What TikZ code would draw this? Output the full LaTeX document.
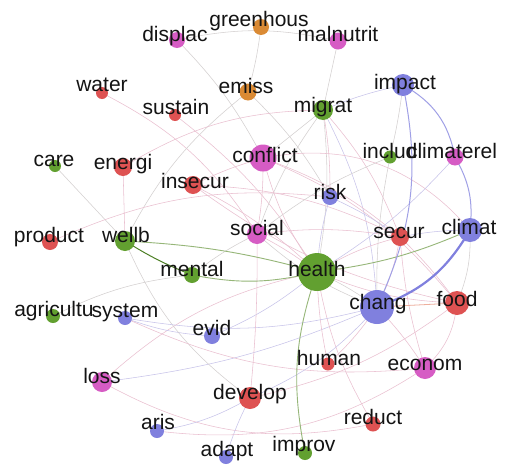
\documentclass[tikz,border=0pt]{standalone}
\usepackage{fontspec}
\setmainfont{Liberation Sans}
\pgfdeclarelayer{bgfill}
\pgfdeclarelayer{edges}
\pgfsetlayers{bgfill,edges,main}
\definecolor{cgreen}{RGB}{98,160,48}
\definecolor{cmag}{RGB}{214,92,196}
\definecolor{cblue}{RGB}{128,128,222}
\definecolor{cred}{RGB}{222,82,82}
\definecolor{corange}{RGB}{218,138,52}
\definecolor{epink}{RGB}{234,192,208}
\definecolor{egray}{RGB}{212,208,208}
\definecolor{elav}{RGB}{200,196,234}
\definecolor{egreen}{RGB}{150,182,120}
\begin{document}
\begin{tikzpicture}[x=1pt,y=1pt,
  nd/.style={circle,inner sep=0pt,draw=none,minimum size=#1},
  lab/.style={font=\fontsize{21}{21}\selectfont,inner sep=0pt,anchor=base,text=black!92},
  ep/.style={draw=epink,line width=0.55pt},
  eg/.style={draw=egray,line width=0.55pt},
  el/.style={draw=elav,line width=0.55pt},
  eb/.style={draw=cblue!75,line width=1pt},
  egr/.style={draw=egreen,line width=0.9pt}]
\useasboundingbox (0,0) rectangle (506,-466);
\begin{pgfonlayer}{bgfill}
\fill[white] (0,0) rectangle (506,-466);
\end{pgfonlayer}
% circles
\node[nd=16pt,fill=cmag] (displac) at (177,-40) {};
\node[nd=16pt,fill=corange] (greenhous) at (261,-27) {};
\node[nd=17pt,fill=cmag] (malnutrit) at (338,-41) {};
\node[nd=12pt,fill=cred] (water) at (102,-93) {};
\node[nd=17pt,fill=corange] (emiss) at (248,-92) {};
\node[nd=22pt,fill=cblue] (impact) at (403,-85) {};
\node[nd=12pt,fill=cred] (sustain) at (175,-115) {};
\node[nd=20pt,fill=cgreen] (migrat) at (323,-110) {};
\node[nd=12pt,fill=cgreen] (care) at (55,-166) {};
\node[nd=18pt,fill=cred] (energi) at (123,-167) {};
\node[nd=27pt,fill=cmag] (conflict) at (263,-158) {};
\node[nd=18pt,fill=cred] (insecur) at (193,-185) {};
\node[nd=13pt,fill=cgreen] (includ) at (390,-157) {};
\node[nd=17pt,fill=cmag] (climaterel) at (455,-157) {};
\node[nd=16pt,fill=cblue] (risk) at (330,-197) {};
\node[nd=20pt,fill=cmag] (social) at (257,-234) {};
\node[nd=18pt,fill=cred] (secur) at (400,-237) {};
\node[nd=24pt,fill=cblue] (climat) at (470,-230) {};
\node[nd=16pt,fill=cred] (product) at (50,-242) {};
\node[nd=20pt,fill=cgreen] (wellb) at (125,-241) {};
\node[nd=16pt,fill=cgreen] (mental) at (192,-275) {};
\node[nd=38pt,fill=cgreen] (health) at (317,-272) {};
\node[nd=34pt,fill=cblue] (chang) at (377,-307) {};
\node[nd=24pt,fill=cred] (food) at (457,-303) {};
\node[nd=14pt,fill=cgreen] (agricultu) at (53,-316) {};
\node[nd=14pt,fill=cblue] (system) at (125,-318) {};
\node[nd=16pt,fill=cblue] (evid) at (212,-336) {};
\node[nd=13pt,fill=cred] (human) at (328,-364) {};
\node[nd=22pt,fill=cmag] (econom) at (425,-368) {};
\node[nd=20pt,fill=cmag] (loss) at (102,-382) {};
\node[nd=22pt,fill=cred] (develop) at (250,-398) {};
\node[nd=15pt,fill=cred] (reduct) at (373,-424) {};
\node[nd=14pt,fill=cblue] (aris) at (157,-431) {};
\node[nd=14pt,fill=cblue] (adapt) at (226,-457) {};
\node[nd=14pt,fill=cgreen] (improv) at (305,-453) {};
% edges
\begin{pgfonlayer}{edges}
\draw[eg] (displac.center) to[bend left=8] (conflict.center);
\draw[eg] (displac.center) to[bend left=12] (malnutrit.center);
\draw[eg] (greenhous.center) to[bend left=4] (emiss.center);
\draw[eg] (malnutrit.center) to (migrat.center);
\draw[ep] (water.center) to[bend left=15] (social.center);
\draw[ep] (sustain.center) to[bend left=10] (health.center);
\draw[eg] (emiss.center) to[bend left=8] (risk.center);
\draw[eg] (emiss.center) to[bend right=12] (wellb.center);
\draw[ep] (energi.center) to[bend left=15] (migrat.center);
\draw[ep] (energi.center) to (wellb.center);
\draw[eg] (care.center) to (wellb.center);
\draw[ep] (product.center) to[bend left=15] (risk.center);
\draw[el] (migrat.center) to[bend left=5] (impact.center);
\draw[eg] (migrat.center) to (conflict.center);
\draw[eg] (migrat.center) to[bend right=8] (social.center);
\draw[eg] (migrat.center) to[bend left=8] (health.center);
\draw[ep] (migrat.center) to[bend left=5] (risk.center);
\draw[ep] (migrat.center) to[bend left=10] (secur.center);
\draw[el] (migrat.center) to[bend left=12] (chang.center);
\draw[ep] (conflict.center) to[bend left=5] (social.center);
\draw[ep] (conflict.center) to[bend right=10] (health.center);
\draw[ep] (conflict.center) to[bend left=30] (climat.center);
\draw[ep] (conflict.center) to[bend right=5] (insecur.center);
\draw[ep] (conflict.center) to[bend left=10] (secur.center);
\draw[ep] (conflict.center) to[bend left=14] (food.center);
\draw[ep] (insecur.center) to[bend left=12] (secur.center);
\draw[ep] (insecur.center) to[bend left=8] (health.center);
\draw[ep] (insecur.center) to[bend right=12] (food.center);
\draw[ep] (social.center) to[bend left=5] (health.center);
\draw[ep] (social.center) to[bend left=8] (secur.center);
\draw[eg] (social.center) to[bend right=10] (chang.center);
\draw[el] (risk.center) to[bend left=5] (secur.center);
\draw[el] (risk.center) to[bend right=6] (health.center);
\draw[ep] (secur.center) to[bend right=8] (health.center);
\draw[ep] (secur.center) to[bend left=5] (food.center);
\draw[ep] (secur.center) to[bend left=8] (chang.center);
\draw[eg] (climat.center) to[bend left=12] (food.center);
\draw[el] (climat.center) to[bend right=5] (secur.center);
\draw[el] (climaterel.center) to[bend left=8] (health.center);
\draw[eg] (includ.center) to[bend right=8] (social.center);
\draw[eg] (impact.center) to[bend left=3] (includ.center);
\draw[eg] (includ.center) to[bend right=6] (chang.center);
\draw[ep] (food.center) to[bend left=20] (econom.center);
\draw[ep] (chang.center) to[bend left=5] (econom.center);
\draw[ep] (econom.center) to[bend left=6] (secur.center);
\draw[ep] (develop.center) to[bend right=12] (food.center);
\draw[ep] (loss.center) to[bend left=15] (health.center);
\draw[el] (loss.center) to[bend right=8] (chang.center);
\draw[ep] (loss.center) to[bend right=20] (reduct.center);
\draw[el] (aris.center) to[bend right=10] (develop.center);
\draw[el] (adapt.center) to[bend left=5] (develop.center);
\draw[ep] (aris.center) to[bend right=20] (econom.center);
\draw[el] (evid.center) to[bend left=8] (system.center);
\draw[el] (evid.center) to[bend right=8] (health.center);
\draw[ep] (reduct.center) to[bend left=10] (health.center);
\draw[ep] (human.center) to[bend right=6] (chang.center);
\draw[ep] (human.center) to[bend left=5] (health.center);
\draw[eg] (wellb.center) to[bend right=15] (develop.center);
\draw[eg] (agricultu.center) to[bend left=10] (mental.center);
\draw[ep] (system.center) to[bend right=15] (econom.center);
\draw[eg] (health.center) to[bend left=5] (chang.center);
\draw[eg] (mental.center) to[bend left=6] (social.center);
\draw[ep] (health.center) to[bend right=10] (food.center);
\draw[el] (develop.center) to[bend right=12] (chang.center);
\draw[el] (system.center) to[bend right=12] (chang.center);
\draw[ep] (social.center) to[bend left=3] (develop.center);
\draw[draw=brown!60!red!45,line width=0.8pt] (chang.center) to (food.center);
\draw[egr] (health.center) to[bend right=15] (improv.center);
\draw[egr] (health.center) to[bend right=8] (climat.center);
\draw[draw=cgreen!80!black,line width=1pt] (wellb.center) to[bend right=5] (mental.center);
\draw[egr] (mental.center) to[bend right=12] (health.center);
\draw[egr] (wellb.center) to[bend left=6] (health.center);
\draw[eb] (impact.center) to[bend left=25] (climaterel.center);
\draw[eb] (impact.center) to[bend left=18] (chang.center);
\draw[eb] (climaterel.center) to[bend left=18] (climat.center);
\draw[draw=cblue,line width=2.2pt] (climat.center) to[bend left=20] (chang.center);
\end{pgfonlayer}
% labels
\node[lab] (displacL) at (175,-41) {displac};
\node[lab] (greenhousL) at (259,-26) {greenhous};
\node[lab] (malnutritL) at (338,-41) {malnutrit};
\node[lab] (waterL) at (102,-91) {water};
\node[lab] (emissL) at (246,-93) {emiss};
\node[lab] (impactL) at (405,-89) {impact};
\node[lab] (sustainL) at (176,-114) {sustain};
\node[lab] (migratL) at (323,-112) {migrat};
\node[lab] (careL) at (54,-166) {care};
\node[lab] (energiL) at (123,-169) {energi};
\node[lab] (conflictL) at (265,-162) {conflict};
\node[lab] (insecurL) at (195,-188) {insecur};
\node[lab] (includL) at (390,-158) {includ};
\node[lab] (climaterelL) at (452,-158) {climaterel};
\node[lab] (riskL) at (330,-199) {risk};
\node[lab] (socialL) at (257,-235) {social};
\node[lab] (securL) at (399,-238) {secur};
\node[lab] (climatL) at (469,-234) {climat};
\node[lab] (productL) at (49,-242) {product};
\node[lab] (wellbL) at (126,-242) {wellb};
\node[lab] (mentalL) at (192,-276) {mental};
\node[lab] (healthL) at (317,-276) {health};
\node[lab] (changL) at (378,-309) {chang};
\node[lab] (foodL) at (457,-306) {food};
\node[lab] (agricultuL) at (54,-316) {agricultu};
\node[lab] (systemL) at (125,-317) {system};
\node[lab] (evidL) at (212,-335) {evid};
\node[lab] (humanL) at (329,-365) {human};
\node[lab] (economL) at (425,-370) {econom};
\node[lab] (lossL) at (102,-383) {loss};
\node[lab] (developL) at (250,-399) {develop};
\node[lab] (reductL) at (373,-424) {reduct};
\node[lab] (arisL) at (158,-429) {aris};
\node[lab] (adaptL) at (227,-456) {adapt};
\node[lab] (improvL) at (304,-451) {improv};
\end{tikzpicture}
\end{document}
